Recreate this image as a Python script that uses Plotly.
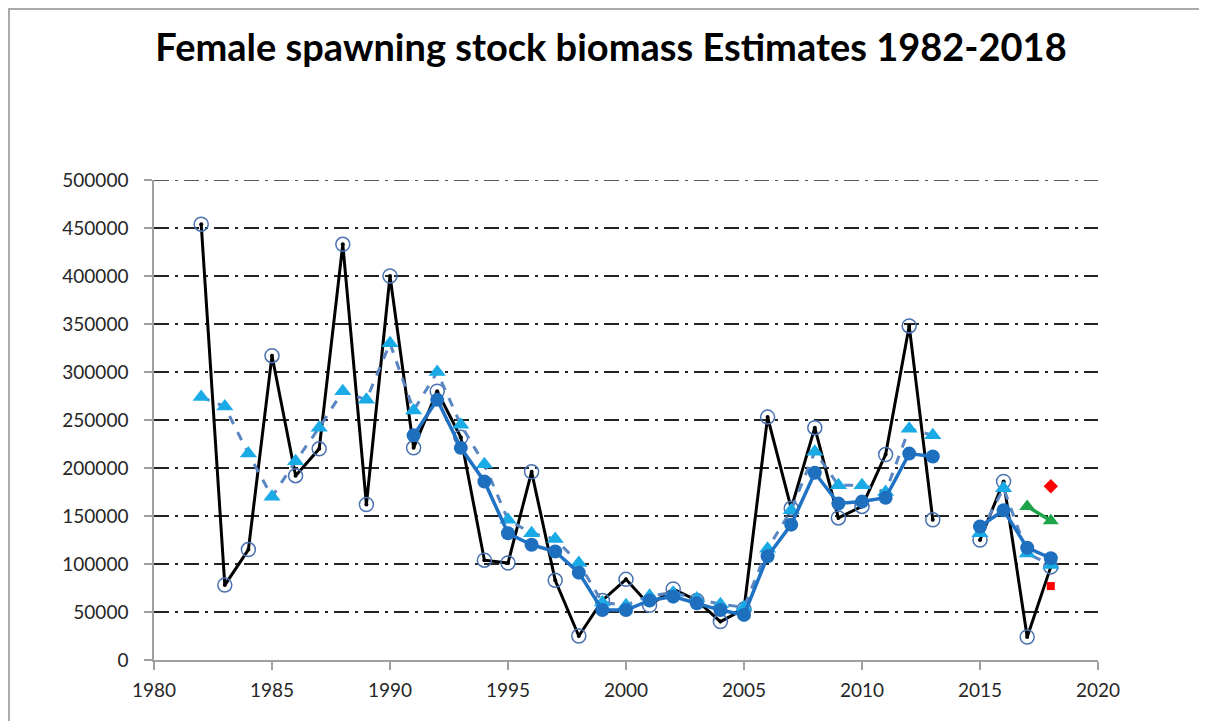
import plotly.graph_objects as go

years = list(range(1982, 2019))

# Black series (open circles)
survey = [454000, 78000, 115000, 317000, 192000, 220000, 433000, 162000, 400000, 221000,
          280000, 232000, 104000, 101000, 196000, 83000, 25000, 62000, 84000, 57000,
          74000, 62000, 40000, 53000, 253000, 158000, 242000, 148000, 160000, 214000,
          348000, 146000, None, 125000, 186000, 24000, 97000]

# Dashed series (light blue triangles)
model_a = [274000, 264000, 215000, 170000, 207000, 242000, 280000, 271000, 330000, 260000,
           300000, 245000, 204000, 146000, 132000, 126000, 101000, 60000, 57000, 67000,
           70000, 64000, 58000, 55000, 116000, 156000, 217000, 182000, 182000, 175000,
           241000, 234000, None, 132000, 179000, 111000, 99000]

# Solid blue series (filled circles), starts 1991
model_b = [None] * 9 + [234000, 271000, 221000, 186000, 132000, 120000, 113000, 91000, 52000,
                        52000, 62000, 66000, 59000, 52000, 47000, 108000, 141000, 195000,
                        163000, 165000, 169000, 215000, 212000, None, 139000, 156000, 117000, 106000]

green_years = [2017, 2018]
green_vals = [160000, 145000]
red_diamond_year = [2018]
red_diamond_val = [181000]
red_square_year = [2018]
red_square_val = [77000]

y_ticks = [0, 50000, 100000, 150000, 200000, 250000, 300000, 350000, 400000, 450000, 500000]
y_labels = [str(v) for v in y_ticks]
x_ticks = [1980, 1985, 1990, 1995, 2000, 2005, 2010, 2015, 2020]

fig = go.Figure()

fig.add_trace(go.Scatter(
    x=years, y=survey, mode="lines+markers",
    line=dict(color="black", width=3),
    marker=dict(symbol="circle-open", size=14, color="#4a72b0", line=dict(width=1.5)),
    connectgaps=False, showlegend=False))
fig.add_trace(go.Scatter(
    x=years, y=survey, mode="markers",
    marker=dict(symbol="circle", size=4, color="black"),
    showlegend=False, hoverinfo="skip"))

fig.add_trace(go.Scatter(
    x=years, y=model_a, mode="lines+markers",
    line=dict(color="#5a86c2", width=3, dash="dash"),
    marker=dict(symbol="triangle-up", size=15, color="#1aabe6"),
    connectgaps=False, showlegend=False))

fig.add_trace(go.Scatter(
    x=years, y=model_b, mode="lines+markers",
    line=dict(color="#1f72c4", width=3.5),
    marker=dict(symbol="circle", size=14, color="#1f6fbf"),
    connectgaps=False, showlegend=False))

fig.add_trace(go.Scatter(
    x=green_years, y=green_vals, mode="lines+markers",
    line=dict(color="#1ea34b", width=3.5),
    marker=dict(symbol="triangle-up", size=14, color="#1ea34b"),
    showlegend=False))

fig.add_trace(go.Scatter(
    x=red_diamond_year, y=red_diamond_val, mode="markers",
    marker=dict(symbol="diamond", size=11, color="#ff0000"),
    showlegend=False))
fig.add_trace(go.Scatter(
    x=red_square_year, y=red_square_val, mode="markers",
    marker=dict(symbol="square", size=8, color="#ff0000"),
    showlegend=False))

# page body has an 8px margin, so the figure starts at (8, 8)
W, H = 1199, 713
L, R, T, B = 146, 109, 172, 61
PW, PH = W - L - R, H - T - B

fig.update_layout(
    width=W, height=H,
    margin=dict(l=L, r=R, t=T, b=B),
    paper_bgcolor="white", plot_bgcolor="white",
    title=dict(text="<b>Female spawning stock biomass Estimates 1982-2018</b>",
               x=(611 - 8) / W, xanchor="center", y=1 - 40 / H, yanchor="middle",
               font=dict(family="Lato, Open Sans, sans-serif", size=38, color="black")),
    font=dict(family="Lato, Open Sans, sans-serif", size=19, color="#262626"),
    xaxis=dict(range=[1980, 2020], tickvals=x_ticks, showgrid=False, zeroline=False,
               showline=True, linecolor="#a0a0a0", linewidth=1.5,
               ticks="outside", ticklen=8, tickcolor="#a0a0a0", tickwidth=1.5,
               ticklabelstandoff=4,
               tickfont=dict(size=19, color="#262626")),
    yaxis=dict(range=[0, 500000], tickvals=y_ticks, ticktext=y_labels, showgrid=True,
               gridcolor="#222222", gridwidth=1.5, griddash="longdashdot",
               zeroline=False, showline=True, linecolor="#a0a0a0", linewidth=1.5,
               ticks="outside", ticklen=8, tickcolor="#a0a0a0", tickwidth=1.5,
               ticklabelstandoff=12,
               tickfont=dict(size=19, color="#262626")),
)

# top gridline at the axis maximum
fig.add_shape(type="line", xref="paper", yref="y", x0=0, x1=1,
              y0=y_ticks[-1], y1=y_ticks[-1],
              line=dict(color="#222222", width=1.5, dash="longdashdot"), layer="below")

# Outer chart frame
fig.add_shape(type="rect", xref="paper", yref="paper",
              x0=-(L - 1) / PW, x1=1.2, y0=-0.3, y1=1 + (T - 1) / PH,
              line=dict(color="#aaaaaa", width=2), fillcolor="rgba(0,0,0,0)", layer="below")

fig.write_html("out.html")
